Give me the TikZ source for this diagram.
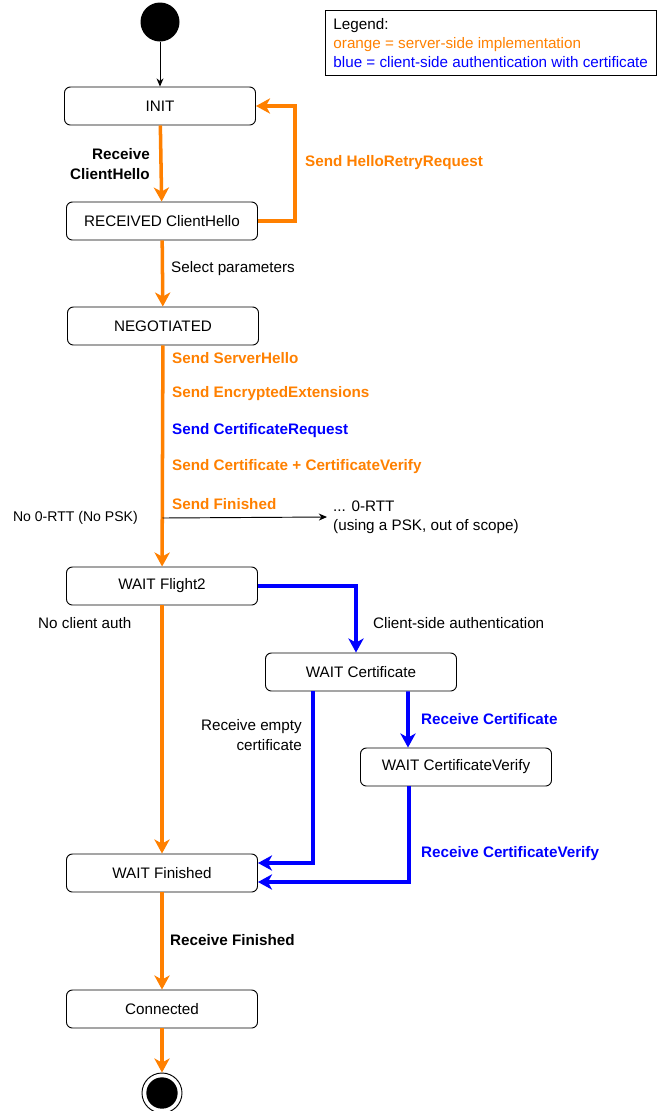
\documentclass[tikz,border=0pt]{standalone}
\usepackage{fontspec}
\setmainfont{Liberation Sans}
\definecolor{SrvOrange}{RGB}{255, 128, 0}
\definecolor{CliBlue}{RGB}{0, 0, 255}
\usetikzlibrary{arrows.meta, positioning, calc}

\begin{document}
\begin{tikzpicture}[x=0.03cm, y=-0.03cm,
    every node/.style={font=\fontsize{13}{16.5}\selectfont},
    state/.style={draw, rounded corners=5pt, line width=0.8pt, minimum width=5.73cm, minimum height=1.14cm, inner sep=0pt},
    srv/.style={SrvOrange, line width=3pt, -{Stealth[length=12pt, width=13pt, inset=3.5pt]}},
    cli/.style={CliBlue, line width=3pt, -{Stealth[length=12pt, width=13pt, inset=3.5pt]}},
    thinarrow/.style={line width=0.8pt, -{Stealth[length=7pt, width=6pt]}},
    lbl/.style={inner sep=0pt}]
    \useasboundingbox (0,0) rectangle (658,1111);

    % Legend
    \node[draw, line width=0.8pt, anchor=north west, align=left, inner xsep=0.24cm, inner ysep=0.23cm] (legend) at (325,10)
        {Legend:\\ \textcolor{SrvOrange}{orange = server-side implementation}\\ \textcolor{CliBlue}{blue = client-side authentication with certificate}};

    % States
    \node[circle, fill=black, minimum size=1.17cm, inner sep=0pt] (start) at (160,22) {};
    \node[state] (init) at (160,106) {INIT};
    \node[state] (rcvd) at (162,221) {RECEIVED ClientHello};
    \node[state] (nego) at (163,326) {NEGOTIATED};
    \node[state] (flight) at (162,586) {WAIT Flight2};
    \node[state] (cert) at (361,672) {WAIT Certificate};
    \node[state] (certv) at (456,767) {WAIT CertificateVerify};
    \node[state] (fin) at (162,873) {WAIT Finished};
    \node[state] (conn) at (162,1009) {Connected};
    \node[circle, draw, line width=0.8pt, minimum size=1.2cm, inner sep=0pt] (stop) at (162,1093) {};
    \fill (stop.center) circle[radius=0.47cm];

    % Handshake
    \draw[thinarrow] (start) -- (init);
    \draw[srv] (init) -- (rcvd);
    \draw[srv] (rcvd.east) -- ++(37,0) |- (init.east);
    \draw[srv] (rcvd) -- (nego);
    \draw[srv] (nego) -- (flight);
    \coordinate (fork) at (162.5,518);
    \node[lbl, anchor=west, align=left] (rtt) at (333,517) {... 0-RTT\\(using a PSK, out of scope)};
    \draw[thinarrow] (fork) -- ([xshift=-0.18cm]rtt.west);

    % Client auth
    \draw[cli] (flight.east) -| ([xshift=-0.15cm]cert.north);
    \draw[cli] ([xshift=-1.44cm]cert.south) |- ([yshift=0.3cm]fin.east);
    \draw[cli] ([xshift=1.41cm]cert.south) -- ([xshift=-1.44cm]certv.north);
    \draw[cli] ([xshift=-1.41cm]certv.south) |- ([yshift=-0.27cm]fin.east);
    \draw[srv] (flight) -- (fin);
    \draw[srv] (fin) -- (conn);
    \draw[srv] (conn) -- (stop);

    % Labels
    \node[lbl, anchor=east, align=right] (l-recv) at (150,164) {\textbf{Receive}\\\textbf{ClientHello}};
    \node[lbl, anchor=west, text=SrvOrange] (l-retry) at (305,163) {\textbf{Send HelloRetryRequest}};
    \node[lbl, anchor=west] (l-select) at (171,269) {Select parameters};
    \node[lbl, anchor=west, text=SrvOrange] (l-sh) at (172,358) {\textbf{Send ServerHello}};
    \node[lbl, anchor=west, text=SrvOrange] (l-ee) at (172,394) {\textbf{Send EncryptedExtensions}};
    \node[lbl, anchor=west, text=CliBlue] (l-cr) at (172,431) {\textbf{Send CertificateRequest}};
    \node[lbl, anchor=west, text=SrvOrange] (l-cv) at (172,467) {\textbf{Send Certificate + CertificateVerify}};
    \node[lbl, anchor=west, text=SrvOrange] (l-sf) at (172,504) {\textbf{Send Finished}};
    \node[lbl, anchor=east, font=\fontsize{12}{15}\selectfont] (l-norrt) at (138,518) {No 0-RTT (No PSK)};
    \node[lbl, anchor=west] (l-noauth) at (38,623) {No client auth};
    \node[lbl, anchor=west] (l-auth) at (373,623) {Client-side authentication};
    \node[lbl, anchor=east, align=right] (l-empty) at (302,735) {Receive empty\\certificate};
    \node[lbl, anchor=west, text=CliBlue] (l-rc) at (421,719) {\textbf{Receive Certificate}};
    \node[lbl, anchor=west, text=CliBlue] (l-rcv) at (421,854) {\textbf{Receive CertificateVerify}};
    \node[lbl, anchor=west] (l-rf) at (170,940) {\textbf{Receive Finished}};
\end{tikzpicture}
\end{document}
